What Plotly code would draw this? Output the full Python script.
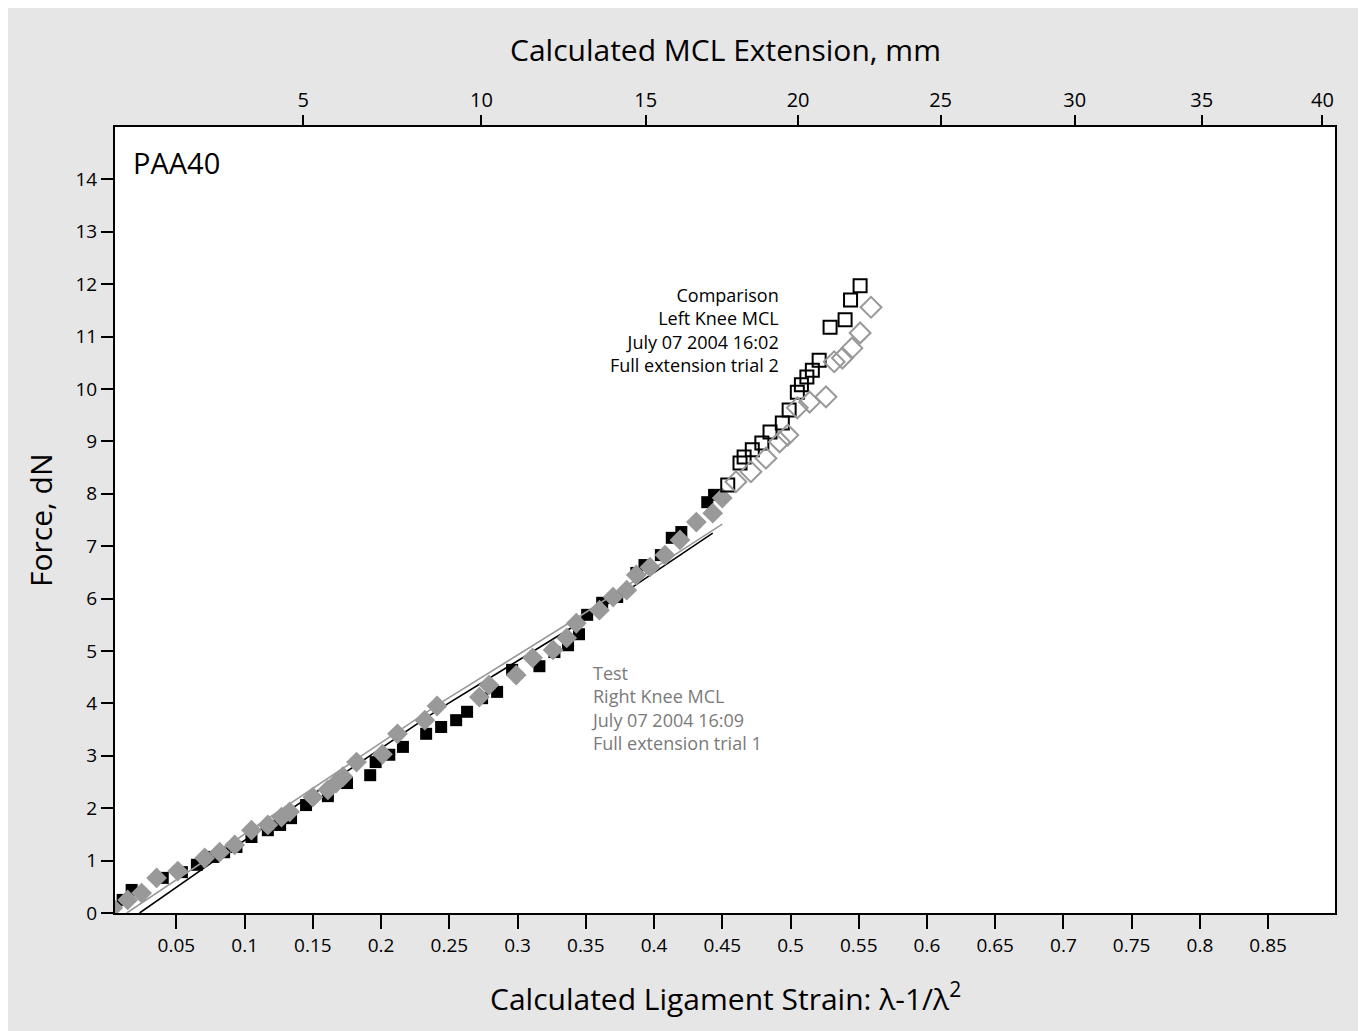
import plotly.graph_objects as go

# Comparison (black) - filled squares (fit region) and open squares (beyond)
cmp_fill_x = [0.0106, 0.0172, 0.040, 0.054, 0.065, 0.077, 0.085, 0.094, 0.105, 0.117, 0.126, 0.134,
              0.145, 0.161, 0.175, 0.192, 0.196, 0.206, 0.216, 0.233, 0.244, 0.255, 0.263, 0.274,
              0.285, 0.296, 0.316, 0.327, 0.337, 0.345, 0.351, 0.362, 0.373, 0.387, 0.393, 0.405,
              0.413, 0.420, 0.439, 0.444]
cmp_fill_y = [0.25, 0.44, 0.67, 0.78, 0.92, 1.07, 1.16, 1.26, 1.45, 1.58, 1.68, 1.81,
              2.06, 2.23, 2.48, 2.63, 2.88, 3.02, 3.17, 3.42, 3.55, 3.68, 3.84, 4.10,
              4.22, 4.64, 4.71, 4.98, 5.11, 5.32, 5.69, 5.92, 6.03, 6.49, 6.64, 6.83,
              7.16, 7.27, 7.84, 7.98]
cmp_open_x = [0.454, 0.463, 0.466, 0.472, 0.479, 0.485, 0.494, 0.499, 0.505, 0.508, 0.512, 0.516,
              0.521, 0.529, 0.540, 0.544, 0.551]
cmp_open_y = [8.17, 8.59, 8.70, 8.84, 8.97, 9.18, 9.35, 9.60, 9.94, 10.08, 10.23, 10.36,
              10.55, 11.18, 11.32, 11.70, 11.97]

# Test (gray) - filled diamonds and open diamonds
test_fill_x = [0.0034, 0.0143, 0.0245, 0.0355, 0.051, 0.0707, 0.0817, 0.0927, 0.105, 0.117, 0.127,
               0.133, 0.150, 0.161, 0.167, 0.172, 0.182, 0.201, 0.212, 0.232, 0.241, 0.272, 0.279,
               0.299, 0.311, 0.326, 0.336, 0.343, 0.360, 0.370, 0.380, 0.387, 0.397, 0.408, 0.419,
               0.431, 0.443, 0.450]
test_fill_y = [0.10, 0.25, 0.38, 0.67, 0.80, 1.05, 1.16, 1.30, 1.58, 1.68, 1.83,
               1.93, 2.21, 2.35, 2.48, 2.60, 2.88, 3.03, 3.42, 3.68, 3.95, 4.12, 4.35,
               4.54, 4.87, 5.02, 5.25, 5.53, 5.78, 6.03, 6.16, 6.45, 6.60, 6.83, 7.12,
               7.46, 7.63, 7.92]
test_open_x = [0.460, 0.471, 0.482, 0.492, 0.498, 0.505, 0.514, 0.526, 0.532, 0.538, 0.545, 0.551, 0.559]
test_open_y = [8.23, 8.42, 8.68, 8.99, 9.12, 9.64, 9.75, 9.85, 10.52, 10.59, 10.78, 11.07, 11.56]

# Fit lines
cmp_fit_x = [0.023, 0.078, 0.243, 0.343, 0.443]
cmp_fit_y = [0.0, 1.00, 3.90, 5.50, 7.25]
test_fit_x = [0.0136, 0.078, 0.243, 0.343, 0.450]
test_fit_y = [0.0, 1.12, 4.00, 5.62, 7.42]

# Axes
x_ticks = [0.05, 0.1, 0.15, 0.2, 0.25, 0.3, 0.35, 0.4, 0.45, 0.5, 0.55, 0.6, 0.65, 0.7, 0.75, 0.8, 0.85]
x_ticktext = ["0.05", "0.1", "0.15", "0.2", "0.25", "0.3", "0.35", "0.4", "0.45", "0.5",
              "0.55", "0.6", "0.65", "0.7", "0.75", "0.8", "0.85"]
y_ticks = list(range(0, 15))
ext_ticks_mm = [5, 10, 15, 20, 25, 30, 35, 40]
L0_mm = 100.0
ext_tickvals = [(1 + e / L0_mm) - 1 / (1 + e / L0_mm) ** 2 for e in ext_ticks_mm]

cmp_lines = ["Comparison", "Left Knee MCL", "July 07 2004 16:02", "Full extension trial 2"]
test_lines = ["Test", "Right Knee MCL", "July 07 2004 16:09", "Full extension trial 1"]

FONT = "Open Sans"
GRAY = "#999999"

fig = go.Figure()
fig.add_trace(go.Scatter(x=cmp_fill_x, y=cmp_fill_y, mode="markers",
                         marker=dict(symbol="square", size=12, color="black"), showlegend=False))
fig.add_trace(go.Scatter(x=cmp_fit_x, y=cmp_fit_y, mode="lines", line=dict(color="black", width=1.6),
                         showlegend=False))
fig.add_trace(go.Scatter(x=test_fit_x, y=test_fit_y, mode="lines", line=dict(color=GRAY, width=1.6),
                         showlegend=False))
fig.add_trace(go.Scatter(x=test_fill_x, y=test_fill_y, mode="markers",
                         marker=dict(symbol="diamond", size=16, color=GRAY), showlegend=False))
fig.add_trace(go.Scatter(x=cmp_open_x, y=cmp_open_y, mode="markers",
                         marker=dict(symbol="square-open", size=13, color="black", line=dict(width=2)),
                         showlegend=False))
fig.add_trace(go.Scatter(x=test_open_x, y=test_open_y, mode="markers",
                         marker=dict(symbol="diamond-open", size=16, color=GRAY, line=dict(width=2)),
                         showlegend=False))
# invisible trace to anchor the top axis
fig.add_trace(go.Scatter(x=[0.5], y=[-10], xaxis="x2", mode="markers", marker=dict(opacity=0),
                         showlegend=False, hoverinfo="skip"))

XR = [0.005, 0.899]
fig.update_layout(
    width=1352, height=1023,
    paper_bgcolor="#e6e6e6", plot_bgcolor="white",
    margin=dict(l=107, r=25, t=119, b=118),
    font=dict(family=FONT, color="black", size=19),
    xaxis=dict(range=XR, tickvals=x_ticks, ticktext=x_ticktext, ticks="outside", ticklen=14,
               tickwidth=1.5, tickcolor="black", showline=True, linecolor="black", linewidth=2,
               mirror=True, showgrid=False, zeroline=False, tickfont=dict(size=19)),
    xaxis2=dict(range=XR, overlaying="x", side="top", tickvals=ext_tickvals,
                ticktext=[str(v) for v in ext_ticks_mm], ticks="outside", ticklen=11, tickwidth=1.5,
                tickcolor="black", showline=False, showgrid=False, zeroline=False, tickfont=dict(size=20)),
    yaxis=dict(range=[0, 15], tickvals=y_ticks, ticks="outside", ticklen=12, tickwidth=1.5,
               tickcolor="black", showline=True, linecolor="black", linewidth=2, mirror=True,
               showgrid=False, zeroline=False, tickfont=dict(size=19)),
)

# reference pixel -> paper coordinates (plot area spans x 115..1335, y 127..913 on screen)
def px2paper_x(px):
    return (px - 115) / 1220.0

def py2paper_y(py):
    return (913 - py) / 786.0

ann = []
ann.append(dict(text="Calculated MCL Extension, mm", x=0.5, y=py2paper_y(50), xref="paper", yref="paper",
                showarrow=False, font=dict(size=30), xanchor="center", yanchor="middle"))
ann.append(dict(text="Calculated Ligament Strain: λ-1/λ<sup>2</sup>", x=0.5, y=py2paper_y(997),
                xref="paper", yref="paper", showarrow=False, font=dict(size=30),
                xanchor="center", yanchor="middle"))
ann.append(dict(text="Force, dN", x=px2paper_x(40), y=0.5, xref="paper", yref="paper", textangle=-90,
                showarrow=False, font=dict(size=30), xanchor="center", yanchor="middle"))
ann.append(dict(text="PAA40", x=px2paper_x(131), y=py2paper_y(162), xref="paper", yref="paper",
                showarrow=False, font=dict(size=29), xanchor="left", yanchor="middle"))

ann.append(dict(text="<br>".join(cmp_lines), x=px2paper_x(781), y=py2paper_y(330), xref="paper",
                yref="paper", showarrow=False, align="right", font=dict(size=18, color="black"),
                xanchor="right", yanchor="middle"))
ann.append(dict(text="<br>".join(test_lines), x=px2paper_x(589), y=py2paper_y(708), xref="paper",
                yref="paper", showarrow=False, align="left", font=dict(size=18, color="#7a7a7a"),
                xanchor="left", yanchor="middle"))

fig.update_layout(annotations=ann)
fig.write_html("out.html")
